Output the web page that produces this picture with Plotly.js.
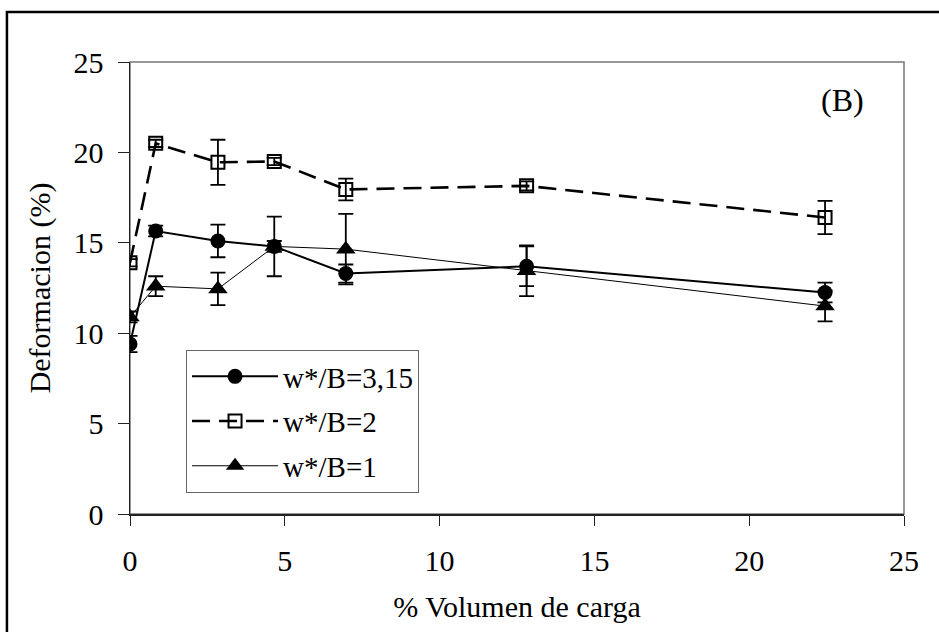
<!DOCTYPE html>
<html>
<head>
<meta charset="utf-8">
<script src="https://cdn.plot.ly/plotly-3.0.1.min.js"></script>
<style>
  html, body { margin: 0; padding: 0; background: #fff; }
  #chart { width: 939px; height: 632px; }
</style>
</head>
<body>
<div id="chart"></div>
<script>
// % volume of filler on the x axis
const volumen = [0, 0.83, 2.84, 4.66, 6.97, 12.81, 22.45];

// Strain (%) and its error bar for each w*/B ratio
const def315 = [9.4, 15.65, 15.1, 14.8, 13.3, 13.7, 12.25];
const err315 = [0.45, 0.3, 0.9, 1.65, 0.5, 1.1, 0.55];

const def2 = [13.9, 20.5, 19.45, 19.5, 17.95, 18.15, 16.4];
const err2 = [0.2, 0.2, 1.25, 0.2, 0.6, 0.25, 0.92];

const def1 = [10.9, 12.6, 12.45, 14.8, 14.65, 13.45, 11.5];
const err1 = [0.3, 0.55, 0.9, 0.3, 1.95, 1.4, 0.85];

const seriesNames = ['w*/B=3,15', 'w*/B=2', 'w*/B=1'];

const serif = 'Liberation Serif, Times New Roman, serif';

function errBar(arr) {
  return { type: 'data', array: arr, visible: true, color: '#000', thickness: 1.8, width: 7.5 };
}

const traces = [
  {
    x: volumen, y: def315, name: seriesNames[0], type: 'scatter', mode: 'lines+markers',
    line: { color: '#000', width: 2 },
    marker: { symbol: 'circle', size: 15, color: '#000' },
    error_y: errBar(err315), legendgroup: 'a'
  },
  {
    x: volumen, y: def2, name: seriesNames[1], type: 'scatter', mode: 'lines+markers',
    line: { color: '#000', width: 2.6, dash: '18px,9px' },
    marker: { symbol: 'square-open', size: 13, color: '#000', line: { width: 2, color: '#000' } },
    error_y: errBar(err2), legendgroup: 'b'
  },
  {
    x: volumen, y: def1, name: seriesNames[2], type: 'scatter', mode: 'lines+markers',
    line: { color: '#000', width: 1 },
    marker: { symbol: 'triangle-up', size: 17, color: '#000' },
    error_y: errBar(err1), legendgroup: 'c'
  }
];

const layout = {
  width: 939, height: 632,
  margin: { l: 130, r: 35, t: 62, b: 118 },
  paper_bgcolor: '#fff', plot_bgcolor: '#fff',
  font: { family: serif, size: 30, color: '#000' },
  showlegend: true,
  legend: {
    x: 0.0724, y: 0.3628, xanchor: 'left', yanchor: 'top',
    bgcolor: '#fff', bordercolor: '#666', borderwidth: 1,
    font: { family: serif, size: 29, color: '#000' },
    itemwidth: 86, tracegroupgap: 4, traceorder: 'grouped'
  },
  xaxis: {
    range: [0, 25], tickvals: [0, 5, 10, 15, 20, 25],
    showgrid: false, zeroline: false,
    showline: true, linecolor: '#222', linewidth: 1.5,
    ticks: 'outside', ticklen: 10, tickcolor: '#222', tickwidth: 1,
    tickfont: { family: serif, size: 30 },
    ticklabelstandoff: 9,
    title: { text: '% Volumen de carga', font: { family: serif, size: 30 }, standoff: 20 }
  },
  yaxis: {
    range: [0, 25], tickvals: [0, 5, 10, 15, 20, 25],
    showgrid: false, zeroline: false,
    showline: true, linecolor: '#222', linewidth: 1.5,
    ticks: 'outside', ticklen: 11, tickcolor: '#222', tickwidth: 1,
    tickfont: { family: serif, size: 30 },
    ticklabelstandoff: 8,
    title: { text: 'Deformacion (%)', font: { family: serif, size: 30 }, standoff: 14 }
  },
  shapes: [
    // gray frame round the plotting area
    { type: 'rect', xref: 'paper', yref: 'paper', x0: 0, x1: 1, y0: 0, y1: 1,
      line: { color: '#777', width: 1.5 }, layer: 'below' },
    // outer frame of the figure
    { type: 'rect', xref: 'paper', yref: 'paper', x0: -0.159, x1: 1.08, y0: -0.29, y1: 1.1106,
      line: { color: '#000', width: 2.5 }, layer: 'below' }
  ],
  annotations: [
    { text: '(B)', xref: 'paper', yref: 'paper', x: 0.921, y: 0.916,
      xanchor: 'center', yanchor: 'middle',
      showarrow: false, font: { family: serif, size: 32, color: '#000' } }
  ]
};

Plotly.newPlot('chart', traces, layout, { displayModeBar: false, staticPlot: true });
</script>
</body>
</html>
